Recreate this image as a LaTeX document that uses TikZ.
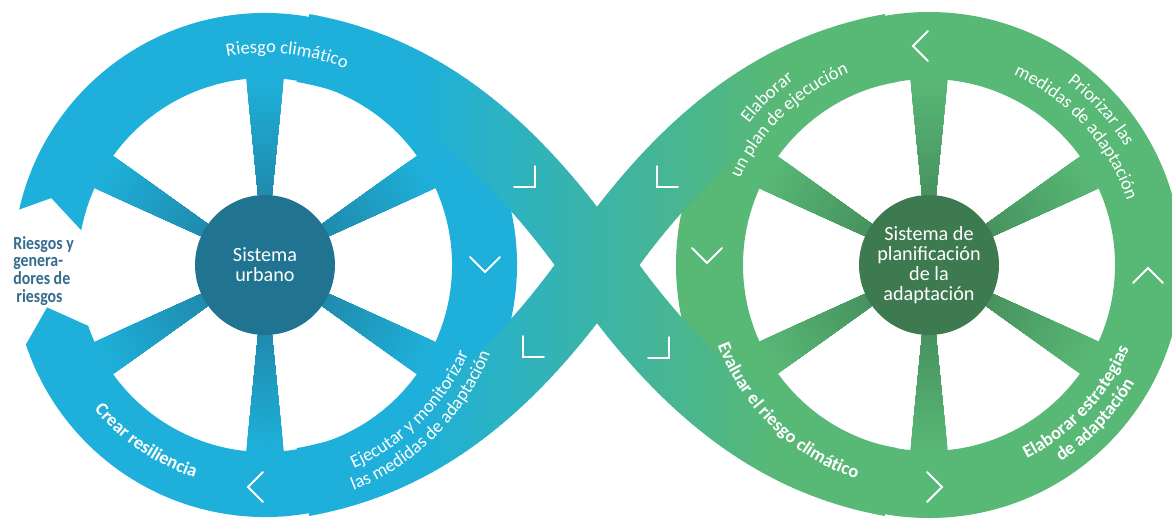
\documentclass[tikz,border=0pt]{standalone}
\usepackage{fontspec}
\setmainfont{Carlito}
\newfontfamily\condfont[FakeStretch=0.86]{Carlito}
\usepackage{tikz}
\definecolor{urbanRing}{RGB}{30,176,218}
\definecolor{urbanHub}{RGB}{32,116,145}
\definecolor{planRing}{RGB}{88,184,118}
\definecolor{planHub}{RGB}{61,122,80}
\definecolor{riskText}{RGB}{53,108,140}
\usetikzlibrary{calc, decorations.text}
\newcommand{\ringfont}{\fontsize{10.5}{12}\selectfont}
\newcommand{\hubfont}{\fontsize{11.5}{11.3}\selectfont}

\begin{document}
\begin{tikzpicture}[
    x=0.02cm, y=-0.02cm,
    band/.style={line width=1.38cm, line cap=butt},
    chev/.style={draw=white, line width=1.1pt, line cap=round},
    hub/.style={circle, minimum size=2.8cm, inner sep=0pt, align=center, text=white, font=\hubfont},
    ringlabel/.style={decorate, decoration={text along path, text align=center, text color=white}}
]
    \useasboundingbox (0,0) rectangle (1172,518);
    \clip (0,0) rectangle (1172,518);

    \coordinate (urb) at (265,265);
    \coordinate (plan) at (929,265);
    \coordinate (cross) at (597,265);

    % rings (the left one is open where the risks come in)
    \fill[urbanRing] ($(urb)+(192.7:252)$) arc[start angle=192.7, end angle=521.6, radius=252]
        -- ($(urb)+(529:222)$) -- ($(urb)+(521:187)$)
        arc[start angle=521, end angle=190.7, radius=187]
        -- ($(urb)+(197.4:224)$) -- cycle;
    \fill[planRing, even odd rule] (plan) circle (253) (plan) circle (186);

    % crossing bands, blue to green
    \foreach \i in {0,...,135} {
        \pgfmathsetmacro\xa{262+5*\i}
        \pgfmathsetmacro\pct{min(100,max(0,(\xa+2.5-420)/355*100))}
        \begin{scope}
            \clip (\xa,0) rectangle ({\xa+5.6},518);
            \draw[band, planRing!\pct!urbanRing] (303,48) .. controls (421,69) and (511,142) .. (cross)
                .. controls (683,388) and (773,461) .. (891,482);
            \draw[band, planRing!\pct!urbanRing] (303,482) .. controls (421,461) and (511,388) .. (cross)
                .. controls (683,142) and (773,69) .. (891,48);
        \end{scope}
    }

    % spokes, darker towards the hub
    \begin{scope}
        \clip \foreach \a in {30,90,...,330} {(urb) -- ($(urb)+({\a-5.7}:190)$) arc[start angle=\a-5.7, end angle=\a+5.7, radius=190] -- cycle};
        \foreach \k in {0,...,47} {
            \pgfmathsetmacro\rr{192-4*\k}
            \pgfmathsetmacro\pp{min(100,\rr/186*100)}
            \fill[urbanRing!\pp!urbanHub] (urb) circle (\rr);
        }
    \end{scope}
    \begin{scope}
        \clip \foreach \a in {30,90,...,330} {(plan) -- ($(plan)+({\a-5.7}:190)$) arc[start angle=\a-5.7, end angle=\a+5.7, radius=190] -- cycle};
        \foreach \k in {0,...,47} {
            \pgfmathsetmacro\rr{192-4*\k}
            \pgfmathsetmacro\pp{min(100,\rr/186*100)}
            \fill[planRing!\pp!planHub] (plan) circle (\rr);
        }
    \end{scope}

    \node[hub, fill=urbanHub] (urbano) at (urb) {Sistema\\urbano};
    \node[hub, fill=planHub] (planificacion) at (plan) {Sistema de\\planificación\\de la\\adaptación};

    \node[anchor=north west, inner sep=0pt, align=left, text=riskText,
        font=\condfont\bfseries\fontsize{10.5}{10}\selectfont] (riesgos) at (13,236)
        {Riesgos y\\genera-\\dores de\\\,riesgos};

    % labels along the rings
    \path[ringlabel, decoration={text={|\ringfont|Riesgo climático}}]
        ($(urb)+(236:212)$) arc[start angle=236, end angle=316, radius=212];
    \path[ringlabel, decoration={text={|\ringfont\bfseries|Crear resiliencia}}]
        ($(urb)+(164:224)$) arc[start angle=164, end angle=84, radius=224];
    \path[ringlabel, decoration={text={|\ringfont|Ejecutar y monitorizar}}]
        ($(urb)+(85:222)$) arc[start angle=85, end angle=5, radius=222];
    \path[ringlabel, decoration={text={|\ringfont|las medidas de adaptación}}]
        ($(urb)+(85:242)$) arc[start angle=85, end angle=5, radius=242];

    \path[ringlabel, decoration={text={|\ringfont|Elaborar}}]
        ($(plan)+(186:229)$) arc[start angle=186, end angle=266, radius=229];
    \path[ringlabel, decoration={text={|\ringfont|un plan de ejecución}}]
        ($(plan)+(186:208)$) arc[start angle=186, end angle=266, radius=208];
    \path[ringlabel, decoration={text={|\ringfont|Priorizar las}}]
        ($(plan)+(278:229)$) arc[start angle=278, end angle=358, radius=229];
    \path[ringlabel, decoration={text={|\ringfont|medidas de adaptación}}]
        ($(plan)+(278:208)$) arc[start angle=278, end angle=358, radius=208];
    \path[ringlabel, decoration={text={|\ringfont\bfseries|Elaborar estrategias}}]
        ($(plan)+(83:217)$) arc[start angle=83, end angle=3, radius=217];
    \path[ringlabel, decoration={text={|\ringfont\bfseries|de adaptación}}]
        ($(plan)+(83:237)$) arc[start angle=83, end angle=3, radius=237];
    \path[ringlabel, decoration={text={|\ringfont\bfseries|Evaluar el riesgo climático}}]
        ($(plan)+(184:226)$) arc[start angle=184, end angle=84, radius=226];

    % direction marks
    \foreach \x/\y/\d in {485/272/90, 248/487/180, 535/187/45, 523/357/135,
                          657/187/135, 669/358/45, 707/263/90, 942/487/0,
                          1148/268/270, 913/46/180}
        \draw[chev] ($(\x,\y)+({\d+135}:21)$) -- (\x,\y) -- ($(\x,\y)+({\d-135}:21)$);
\end{tikzpicture}
\end{document}
